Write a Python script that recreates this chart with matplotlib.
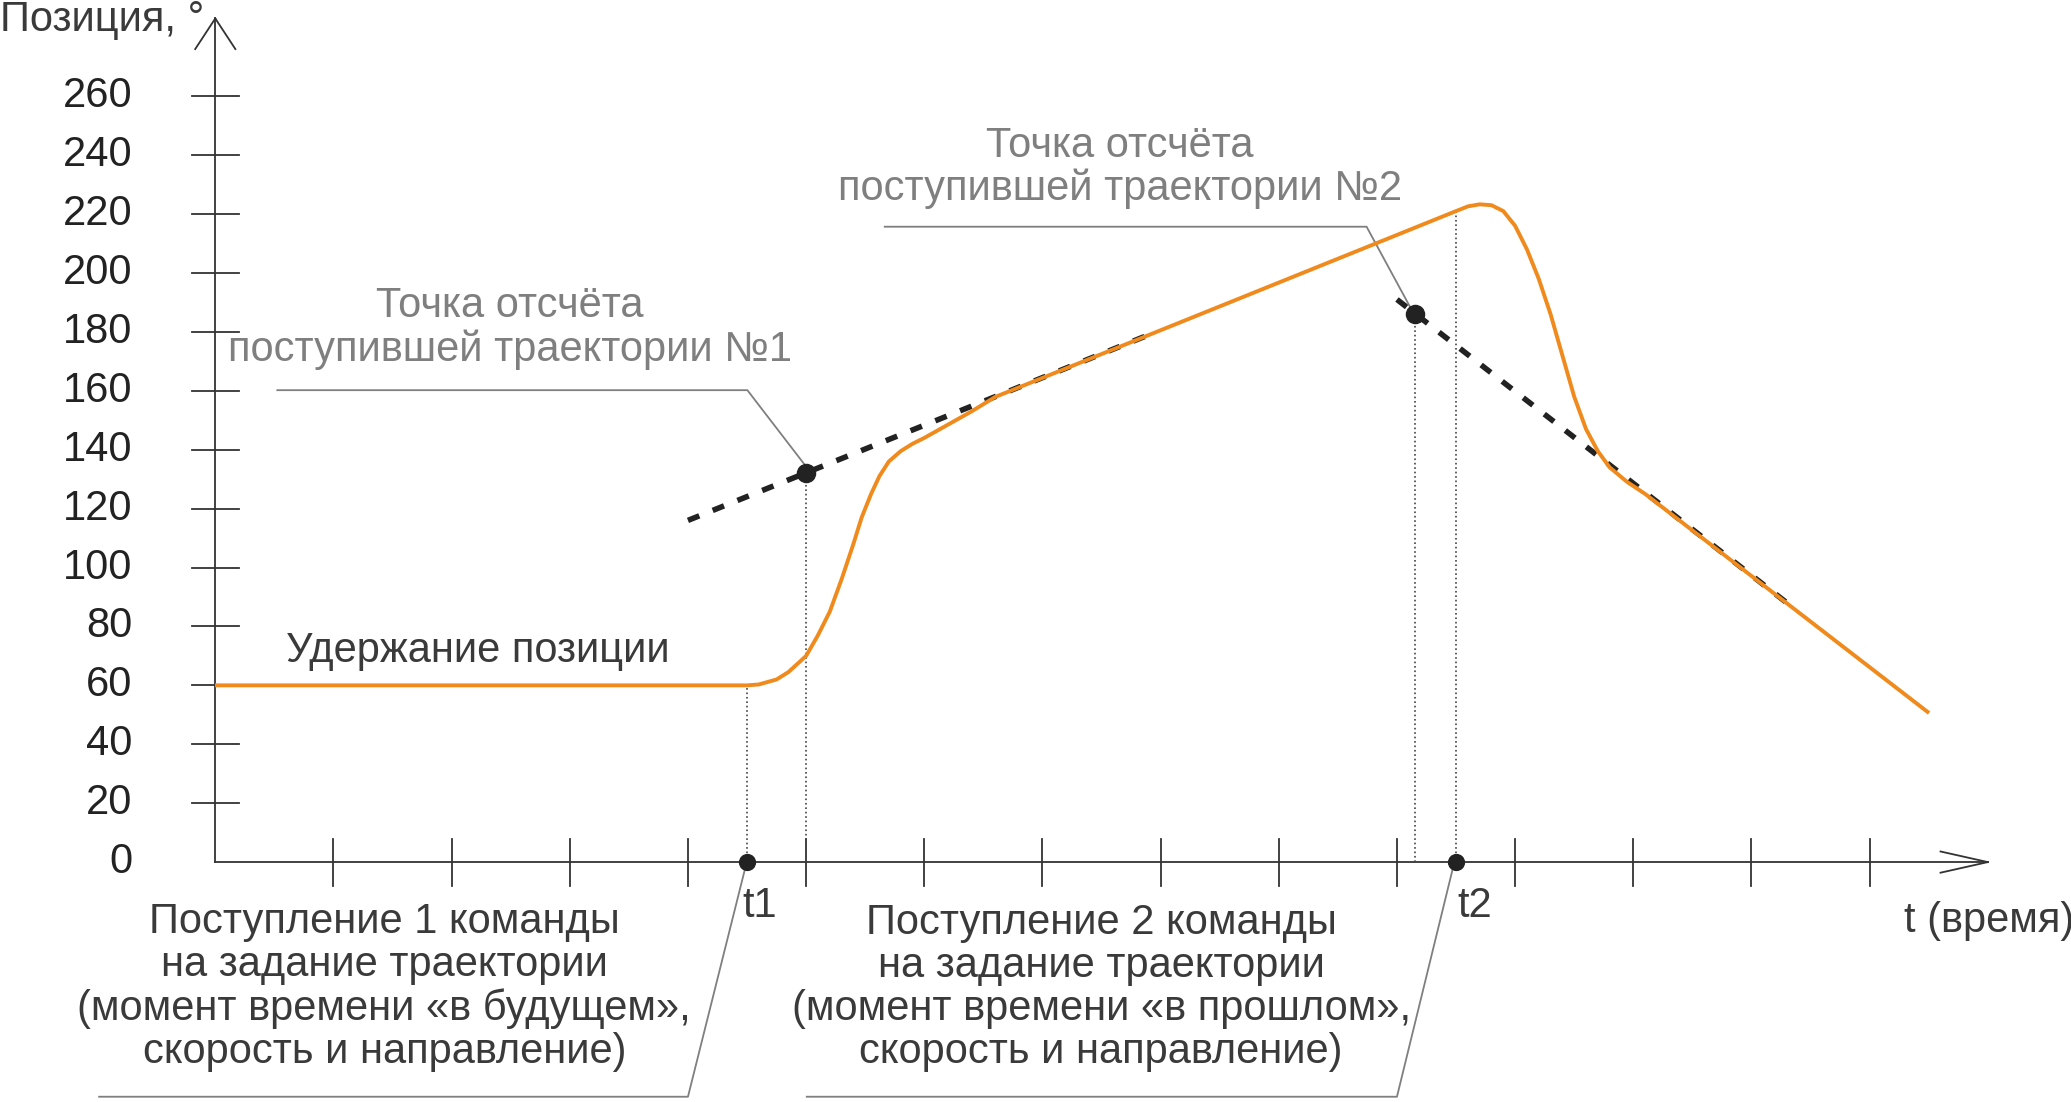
import matplotlib
matplotlib.use("Agg")
import matplotlib.pyplot as plt

plt.rcParams["font.family"] = "Liberation Sans"

# данные (время в делениях оси, позиция в градусах)
y_ticks = [0, 20, 40, 60, 80, 100, 120, 140, 160, 180, 200, 220, 240, 260]
x_ticks = list(range(1, 15))
curve_t = [0, 4.5, 4.6, 4.75, 4.85, 5.0, 5.1, 5.2, 5.3, 5.4, 5.47, 5.55, 5.62,
           5.7, 5.8, 5.9, 6.0, 6.2, 6.4, 6.6, 10.5, 10.6, 10.7, 10.8, 10.9,
           11.0, 11.1, 11.2, 11.3, 11.4, 11.5, 11.6, 11.7, 11.8, 11.95, 12.1, 14.49]
curve_y = [60, 60, 60.3, 62, 64.5, 70, 77, 85, 96, 108, 117, 125, 131,
           136, 139.5, 142, 144, 148.5, 153, 157.9, 221, 222.6, 223.3, 223, 221,
           216, 208, 198, 186, 172, 158, 147, 139.5, 134, 129, 125, 51]
dash1_t = [4.0, 7.9]
dash1_y = [116, 179]
dash2_t = [10.0, 13.3]
dash2_y = [191, 88]
ref_t = [5.0, 10.15]
ref_y = [132, 186]
cmd_t = [4.5, 10.5]

W, H = 1568, 836  # размеры эскиза, в которых сняты координаты
fig = plt.figure(figsize=(20.71, 11.02), dpi=100)
ax = fig.add_axes([163 / W, 182 / H, (1505 - 163) / W, (654 - 14) / H])
ax.set_xlim(0, 15)
ax.set_ylim(0, 286.4)
ax.axis("off")


def px(x, y):
    return (x - 163) / 89.5, (654 - y) / 2.2346


GRAY = "#7f7f7f"
TXT = "#3a3a3a"
FS = 30

# оси со стрелками
ax.plot([0, 15], [0, 0], color="#333", lw=1.3, clip_on=False)
ax.plot([0, 0], [0, 286.4], color="#333", lw=1.3, clip_on=False)
for a, b in [((15, 0), (14.6, 3.6)), ((15, 0), (14.6, -3.6)),
             ((0, 286.4), (-0.17, 276)), ((0, 286.4), (0.17, 276))]:
    ax.plot([a[0], b[0]], [a[1], b[1]], color="#333", lw=1.3, clip_on=False)
for v in y_ticks[1:]:
    ax.plot([-0.2, 0.2], [v, v], color="#333", lw=1.3, clip_on=False)
for v in y_ticks:
    ax.text(-0.7, v, str(v), ha="right", va="center", fontsize=FS, color="#222")
for v in x_ticks:
    ax.plot([v, v], [-8, 8], color="#333", lw=1.3, clip_on=False)

# пунктирные продолжения траекторий
ax.plot(dash1_t, dash1_y, color="#222", lw=4, ls=(0, (2.2, 2.6)), zorder=2)
ax.plot(dash2_t, dash2_y, color="#222", lw=4, ls=(0, (2.2, 2.6)), zorder=2)
ax.plot(curve_t, curve_y, color="#f08a1c", lw=2.8, zorder=3)

# вертикальные точечные линии
ax.plot([cmd_t[0]] * 2, [0, 60], color="#444", lw=1.2, ls=":")
ax.plot([ref_t[0]] * 2, [0, ref_y[0]], color="#444", lw=1.2, ls=":")
ax.plot([ref_t[1]] * 2, [0, ref_y[1]], color="#444", lw=1.2, ls=":")
ax.plot([cmd_t[1]] * 2, [0, 221], color="#444", lw=1.2, ls=":")

ax.scatter(ref_t, ref_y, s=170, color="#222", zorder=5)
ax.scatter(cmd_t, [0, 0], s=130, color="#222", zorder=5, clip_on=False)

# выноски
for pts in [[(210, 296), (566, 296), (609, 352)],
            [(670, 172), (1035, 172), (1068, 233)],
            [(75, 832), (521, 832), (565, 656)],
            [(611, 832), (1058, 832), (1101, 656)]]:
    xs, ys = zip(*[px(*p) for p in pts])
    ax.plot(xs, ys, color=GRAY, lw=1.3, clip_on=False)


def label(x, y, s, color, ha="center", size=FS):
    ax.text(*px(x, y), s, ha=ha, va="center", fontsize=size, color=color,
            linespacing=1.1)


label(0, 15, "Позиция, °", TXT, ha="left")
label(1442, 699, "t (время)", TXT, ha="left")
label(575, 687, "t1", TXT)
label(1117, 687, "t2", TXT)
label(362, 494, "Удержание позиции", TXT)
label(386, 249, "Точка отсчёта\nпоступившей траектории №1", GRAY)
label(848, 127, "Точка отсчёта\nпоступившей траектории №2", GRAY)
label(291, 749, "Поступление 1 команды\nна задание траектории\n(момент времени «в будущем»,\nскорость и направление)", TXT)
label(834, 749, "Поступление 2 команды\nна задание траектории\n(момент времени «в прошлом»,\nскорость и направление)", TXT)

fig.savefig("out.png", dpi=100, facecolor="white")
